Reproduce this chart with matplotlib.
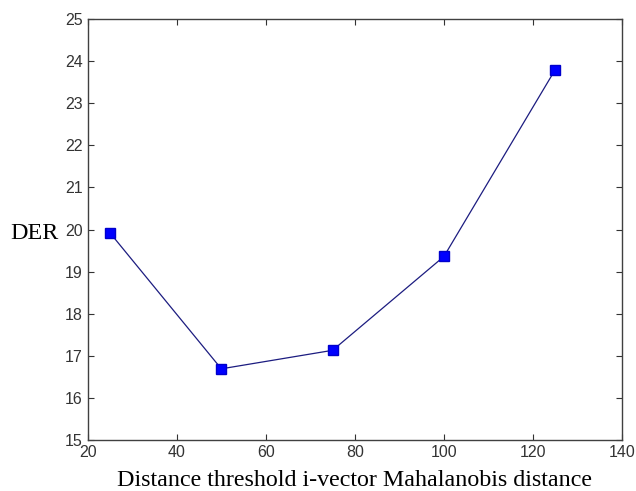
import matplotlib
matplotlib.use("Agg")
import matplotlib.pyplot as plt

thresholds = [25, 50, 75, 100, 125]
der = [19.92, 16.69, 17.13, 19.36, 23.8]
xticks = [20, 40, 60, 80, 100, 120, 140]
yticks = [15, 16, 17, 18, 19, 20, 21, 22, 23, 24, 25]

fig = plt.figure(figsize=(6.36, 4.91), dpi=100)
ax = fig.add_axes([0.138, 0.104, 0.840, 0.857])

ax.plot(thresholds, der, color='#1c1c80', linewidth=0.9, marker='s',
        markersize=7.5, markerfacecolor='#0000ff', markeredgecolor='#0000cc')

ax.set_xlim(20, 140)
ax.set_ylim(15, 25)
ax.set_xticks(xticks)
ax.set_yticks(yticks)
ax.tick_params(direction='in', top=True, right=True, length=4, width=0.8,
               colors='#333333', labelsize=11.5)
for lab in ax.get_xticklabels() + ax.get_yticklabels():
    lab.set_family('Liberation Sans')
for s in ax.spines.values():
    s.set_color('#404040')
    s.set_linewidth(1.0)

ax.set_xlabel('Distance threshold i-vector Mahalanobis distance',
              family='Liberation Serif', fontsize=17.3, labelpad=7)
ax.set_ylabel('DER', family='Liberation Serif', fontsize=17.3, rotation=0,
              ha='right', va='center')
ax.yaxis.set_label_coords(-0.055, 0.49)

fig.savefig('out.png', dpi=100)
